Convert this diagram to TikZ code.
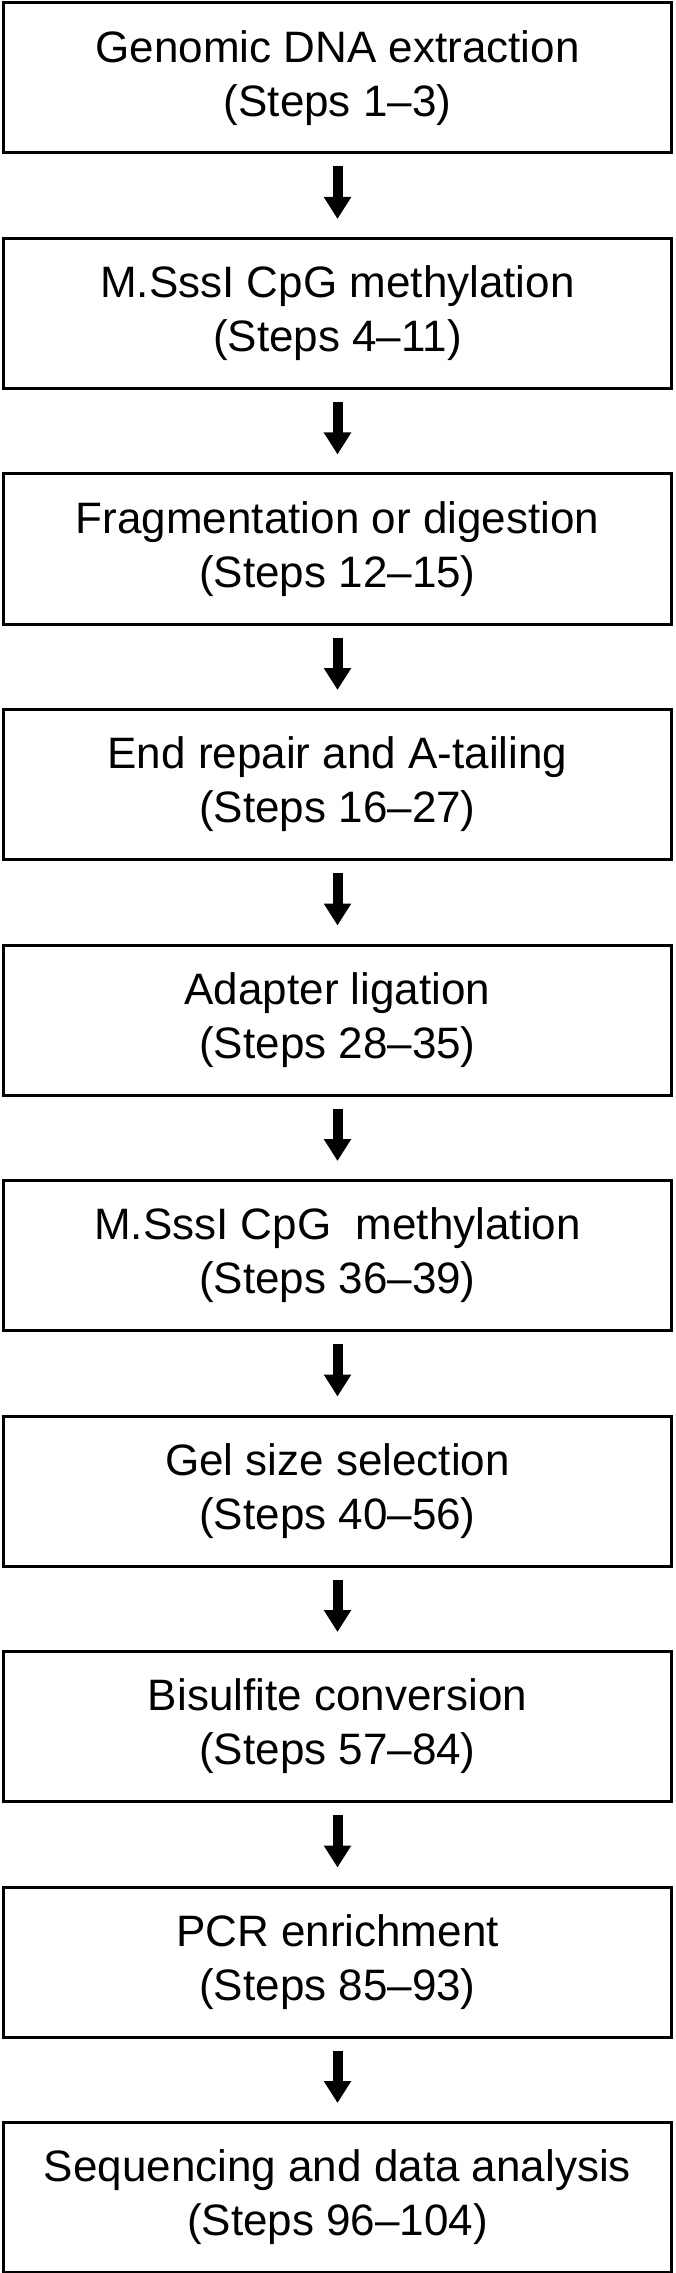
\documentclass[tikz,border=0pt]{standalone}
\usepackage{fontspec}
\setmainfont{Liberation Sans}
\usetikzlibrary{positioning,arrows.meta}
\begin{document}
\begin{tikzpicture}[x=0.5pt,y=-0.5pt,
    stepbox/.style = {draw,line width=1.5pt,minimum width=334pt,minimum height=75pt,
                   align=center,font=\fontsize{22}{27}\selectfont,inner sep=0pt},
    arrow/.style = {line width=5pt,-{Triangle[width=13pt,length=11pt]},shorten <=6pt,shorten >=9pt}]
    \useasboundingbox (0,0) rectangle (675,2273);
    \node[stepbox] (s1)  at (337.5,78)            {Genomic DNA extraction\\(Steps 1--3)};
    \node[stepbox] (s2)  at (337.5,78+235.5)      {M.SssI CpG methylation\\(Steps 4--11)};
    \node[stepbox] (s3)  at (337.5,78+2*235.5)    {Fragmentation or digestion\\(Steps 12--15)};
    \node[stepbox] (s4)  at (337.5,78+3*235.5)    {End repair and A-tailing\\(Steps 16--27)};
    \node[stepbox] (s5)  at (337.5,78+4*235.5)    {Adapter ligation\\(Steps 28--35)};
    \node[stepbox] (s6)  at (337.5,78+5*235.5)    {M.SssI CpG\ \ methylation\\(Steps 36--39)};
    \node[stepbox] (s7)  at (337.5,78+6*235.5)    {Gel size selection\\(Steps 40--56)};
    \node[stepbox] (s8)  at (337.5,78+7*235.5)    {Bisulfite conversion\\(Steps 57--84)};
    \node[stepbox] (s9)  at (337.5,78+8*235.5)    {PCR enrichment\\(Steps 85--93)};
    \node[stepbox] (s10) at (337.5,78+9*235.5)    {Sequencing and data analysis\\(Steps 96--104)};
    \foreach \a/\b in {s1/s2,s2/s3,s3/s4,s4/s5,s5/s6,s6/s7,s7/s8,s8/s9,s9/s10}
        \draw[arrow] (\a) -- (\b);
\end{tikzpicture}
\end{document}
